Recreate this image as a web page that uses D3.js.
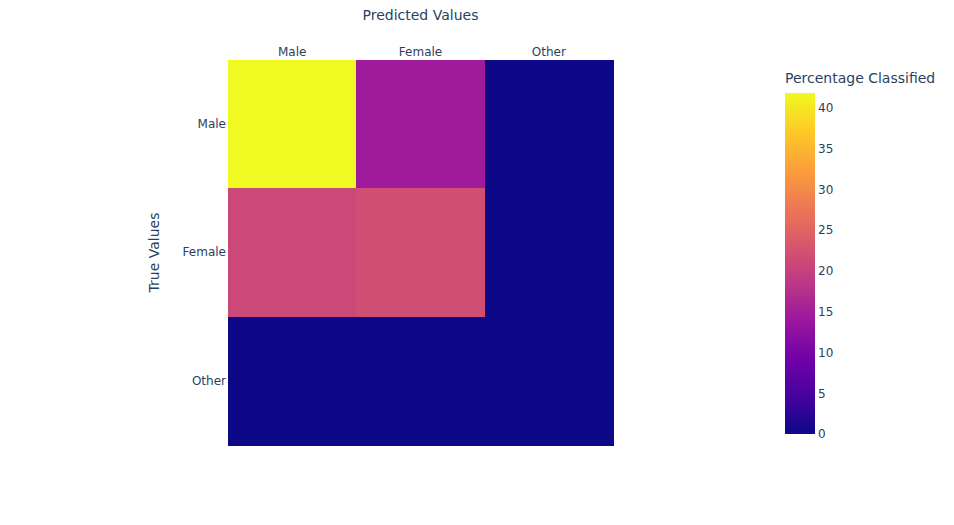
<!DOCTYPE html>
<html><head><meta charset="utf-8">
<script src="https://cdn.jsdelivr.net/npm/d3@7"></script>
<style>body{margin:0;background:#fff}svg{display:block}text{font-family:"DejaVu Sans",sans-serif;fill:#2a3f5f}</style>
</head><body><svg id="c" width="954" height="525"></svg>
<script>
const predicted = ["Male","Female","Other"];
const trueVals = ["Male","Female","Other"];
// rows = true values, columns = predicted values (percentage)
const rowMale = [41.8, 14.5, 0.0];
const rowFemale = [21.0, 21.8, 0.0];
const rowOther = [0.0, 0.0, 0.0];
const matrix = [rowMale, rowFemale, rowOther];
const cbTicks = [0,5,10,15,20,25,30,35,40];
const plasmaStops = ["#0d0887","#46039f","#7201a8","#9c179e","#bd3786","#d8576b","#ed7953","#fb9f3a","#fdca26","#f0f921"];

const FONT = "'DejaVu Sans',sans-serif";
const svg = d3.select("#c");
const x = d3.scaleBand().domain(predicted).range([228,613]);
const y = d3.scaleBand().domain(trueVals).range([60,445]);
const all = matrix.flat();
const zmin = d3.min(all), zmax = d3.max(all);
const color = d3.scaleLinear()
  .domain(plasmaStops.map((_,i)=>zmin + (zmax-zmin)*i/(plasmaStops.length-1)))
  .range(plasmaStops).interpolate(d3.interpolateRgb);

const cells = [];
trueVals.forEach((t,i)=>predicted.forEach((p,j)=>cells.push({t,p,v:matrix[i][j]})));
svg.append("g").attr("shape-rendering","crispEdges").selectAll("rect").data(cells).join("rect")
  .attr("x",d=>x(d.p)).attr("y",d=>y(d.t))
  .attr("width",x.bandwidth()+0.5).attr("height",y.bandwidth()+0.5)
  .attr("fill",d=>color(d.v));

function styleAxis(g){
  g.select(".domain").remove();
  g.selectAll("text").style("font-size","12px").style("fill","#2a3f5f").style("font-family",FONT);
}
// top x axis
svg.append("g").attr("transform","translate(0,60)")
  .call(d3.axisTop(x).tickSize(0).tickPadding(4)).call(styleAxis);
svg.append("text").attr("x",420.5).attr("y",20).attr("text-anchor","middle").style("font-size","14px").text("Predicted Values");

// left y axis
svg.append("g").attr("transform","translate(228,0)")
  .call(d3.axisLeft(y).tickSize(0).tickPadding(2)).call(styleAxis);
svg.append("text").attr("transform","translate(159,252.5) rotate(-90)").attr("text-anchor","middle").style("font-size","14px").text("True Values");

// colorbar
const cbX = 785, cbW = 30, cbTop = 93, cbBot = 434;
const cy = d3.scaleLinear().domain([zmin,zmax]).range([cbBot,cbTop]);
const grad = svg.append("defs").append("linearGradient").attr("id","g").attr("x1",0).attr("y1",1).attr("x2",0).attr("y2",0);
plasmaStops.forEach((c,i)=>grad.append("stop").attr("offset",i/(plasmaStops.length-1)).attr("stop-color",c));
svg.append("rect").attr("x",cbX).attr("y",cbTop).attr("width",cbW).attr("height",cbBot-cbTop).attr("fill","url(#g)");
svg.append("g").attr("transform",`translate(${cbX+cbW},0)`)
  .call(d3.axisRight(cy).tickValues(cbTicks).tickSize(0).tickPadding(3)).call(styleAxis);
svg.append("text").attr("x",785).attr("y",83).style("font-size","14px").text("Percentage Classified");
</script></body></html>
